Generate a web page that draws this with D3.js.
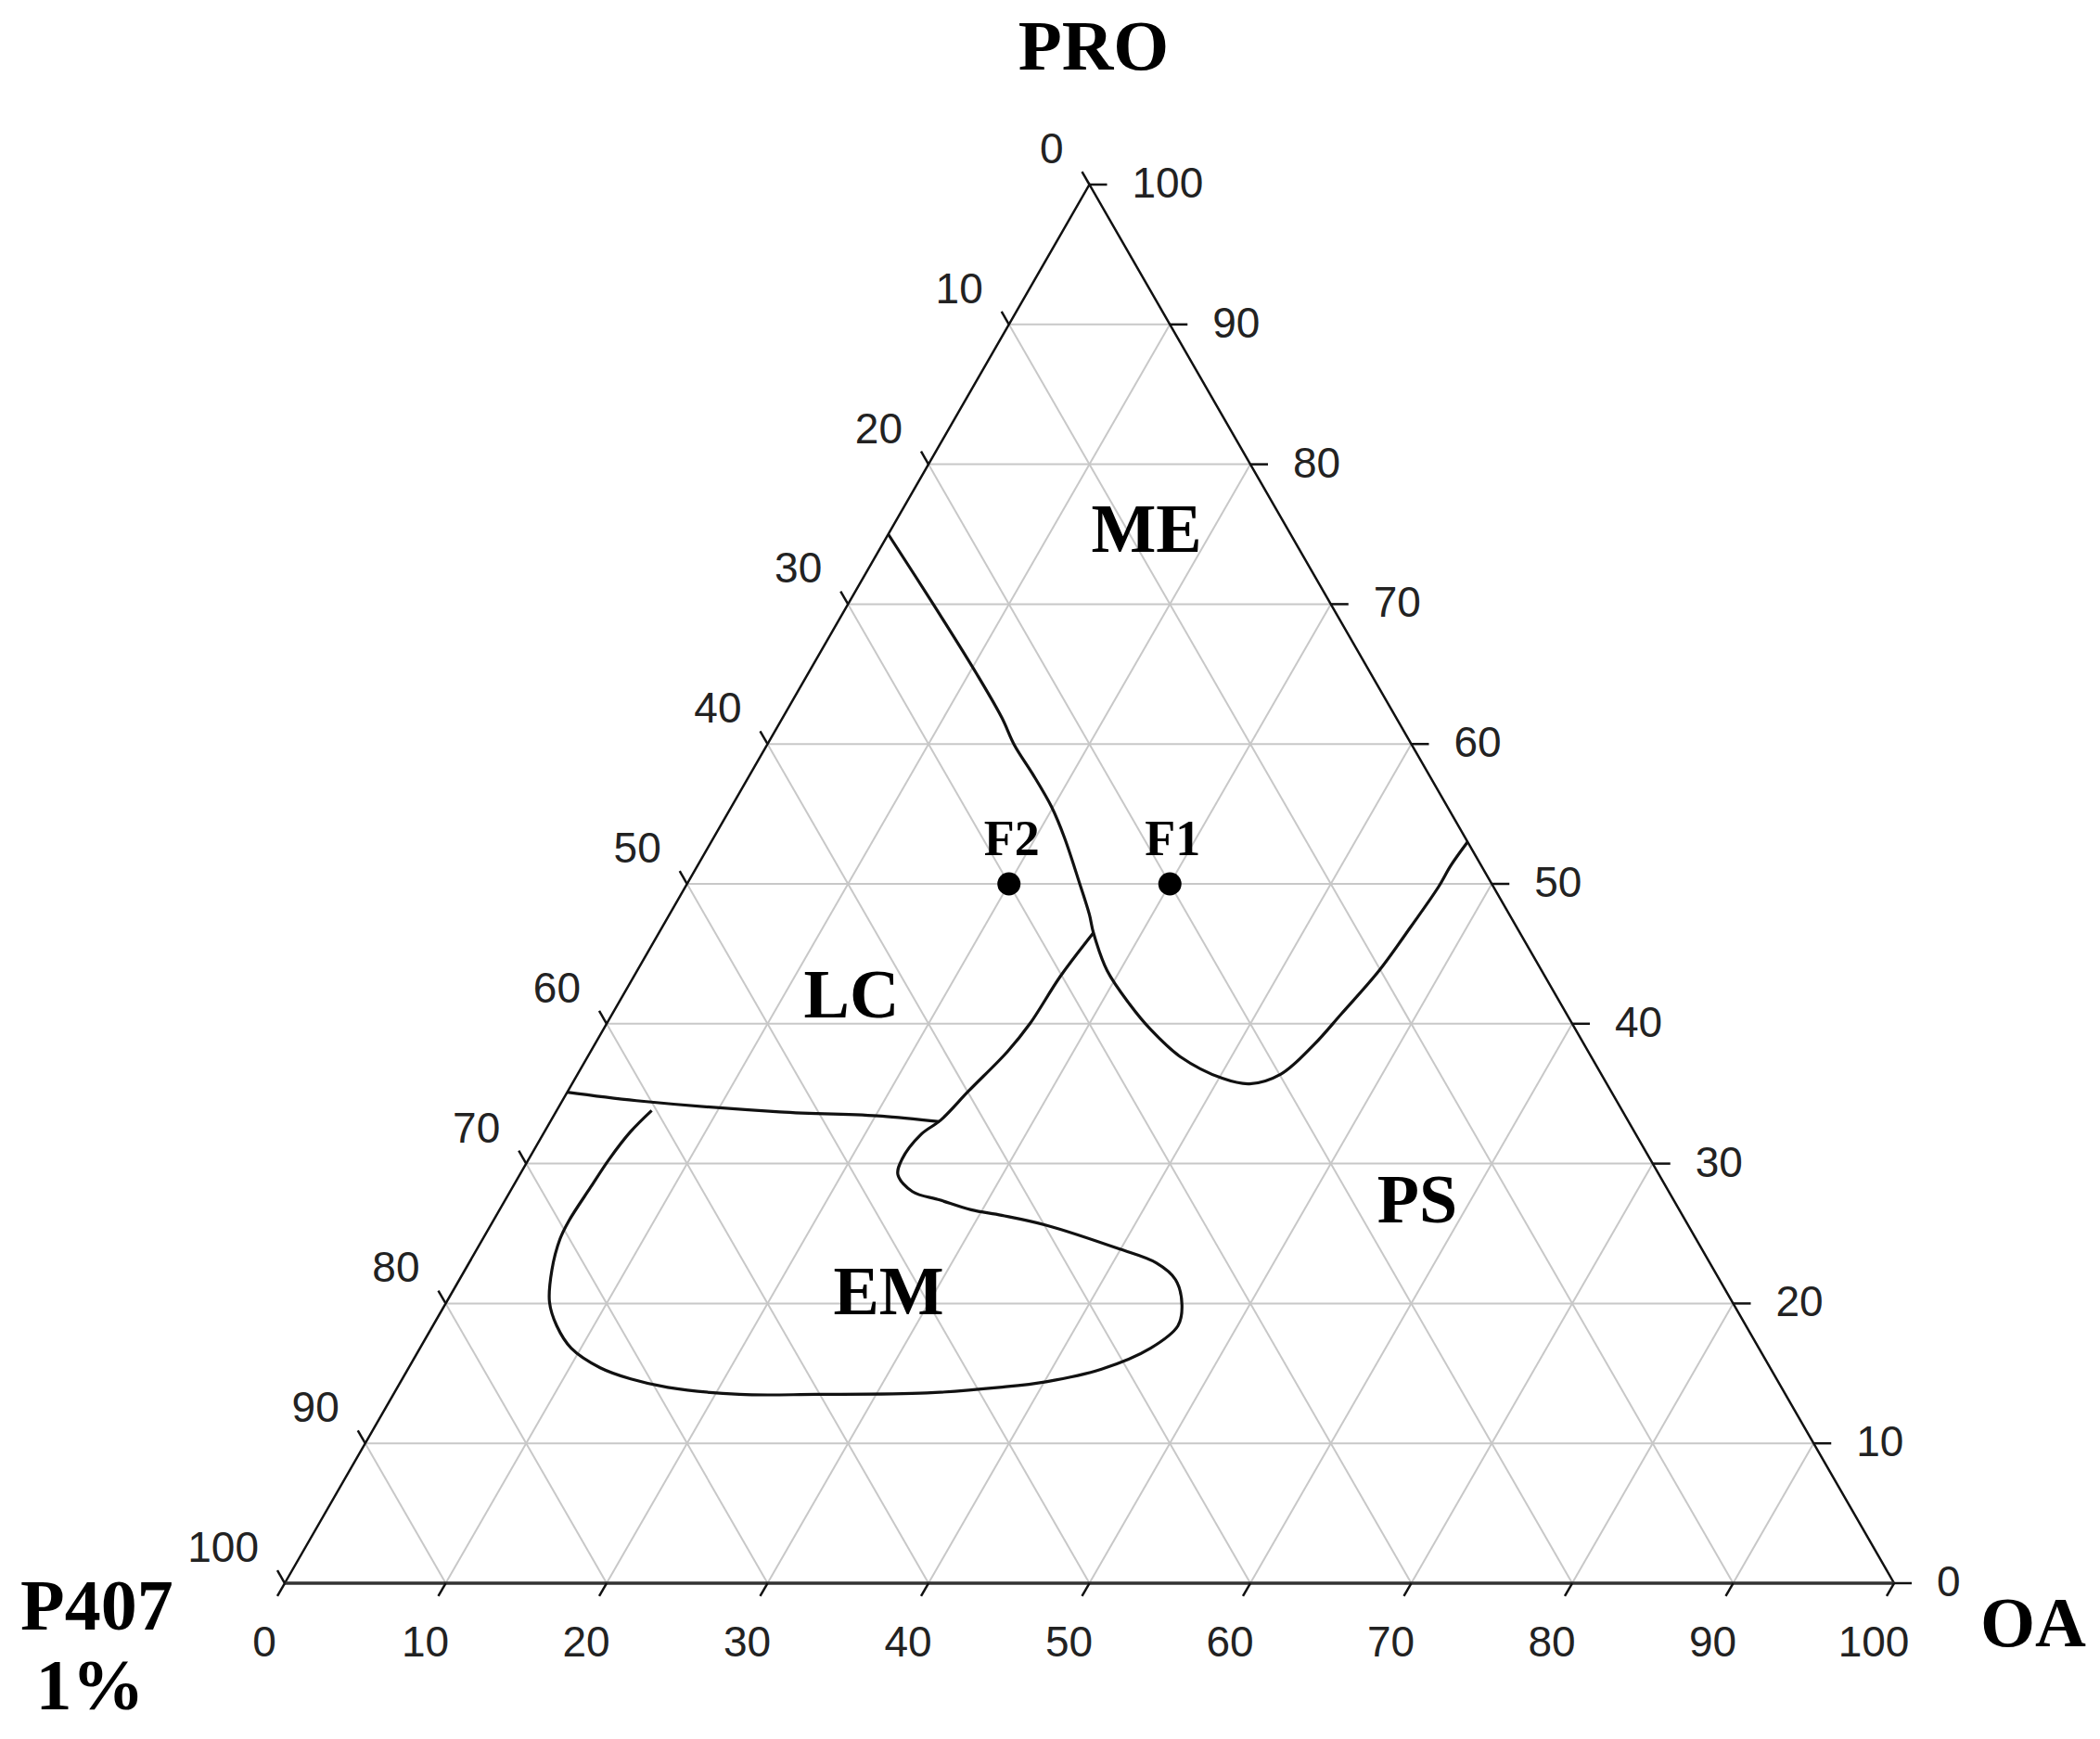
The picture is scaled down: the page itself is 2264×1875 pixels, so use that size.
<!DOCTYPE html>
<html>
<head>
<meta charset="utf-8">
<script src="https://cdn.jsdelivr.net/npm/d3@7"></script>
<style>
  body { margin: 0; background: #fff; }
  svg { display: block; }
  .tick-label { font-family: "Liberation Sans", Arial, sans-serif; font-size: 46px; fill: #222; }
  .big { font-family: "Liberation Serif", "Times New Roman", serif; font-weight: bold; fill: #000; }
</style>
</head>
<body>
<div id="app"></div>
<script>
// tick values shared by the three axes
var tickValues = [0, 10, 20, 30, 40, 50, 60, 70, 80, 90, 100];

// phase boundaries, points as [OA, PRO] (P407 = 100 - OA - PRO)
var boundaryME = [
  [0, 75], [5.4, 69.9], [10.5, 65], [13.6, 61.9], [15.4, 59.9], [17.5, 57.9],
  [19.9, 55.5], [21.8, 53.3], [24.4, 50], [26.1, 47.8], [27.0, 46.5],
  [29.2, 43.8], [31.8, 41.4], [34.0, 39.6], [36.9, 37.6], [40.2, 36.1],
  [42.1, 35.7], [43.7, 36.4], [44.7, 38.5], [45.3, 40.7], [46.1, 43.8],
  [46.5, 46.9], [46.8, 49.8], [46.8, 51.3], [47.0, 53.0]
];

var boundaryEM = [
  [27.0, 46.5], [26.5, 43.4], [26.3, 40.0], [25.9, 38.0], [24.9, 35.2],
  [24.2, 33.1], [23.5, 32.1], [23.2, 30.3], [23.5, 29.2], [25.0, 28.0],
  [27.0, 27.4], [29.3, 26.7], [31.4, 26.3], [34.5, 25.6], [39.9, 23.9],
  [42.7, 22.9], [44.5, 21.7], [45.8, 19.9], [46.3, 18.4], [45.4, 16.8],
  [43.1, 15.3], [40.1, 14.4], [37.4, 14.0], [33.1, 13.6], [26.3, 13.5],
  [21.5, 13.5], [16.8, 14.0], [14.2, 14.6], [11.9, 15.4], [9.4, 16.8],
  [7.7, 18.4], [6.4, 20.1], [5.4, 22.4], [4.8, 24.6], [4.7, 25.9],
  [4.85, 28.3], [5.0, 30.3], [5.35, 32.3], [5.9, 33.8]
];

var boundaryLC = [
  [0, 35.1], [4.6, 34.5], [13.9, 33.7], [20.4, 33.4], [24.2, 33.0]
];

// formulations
var pointNames = ["F1", "F2"];
var pointOA = [30, 20];
var pointPRO = [50, 50];

var regionNames = ["ME", "LC", "EM", "PS"];

var width = 2264,
    height = 1875;

var svg = d3.select("#app").append("svg")
    .attr("width", width)
    .attr("height", height);

svg.append("rect").attr("width", width).attr("height", height).attr("fill", "#fff");

// ternary -> screen: x follows OA + PRO/2, y follows PRO
var xScale = d3.scaleLinear().domain([0, 100]).range([307, 2042]);
var yScale = d3.scaleLinear().domain([0, 100]).range([1707, 199]);

function project(oa, pro) {
    return [xScale(oa + pro / 2), yScale(pro)];
}

var line = d3.line()
    .x(function(d) { return project(d[0], d[1])[0]; })
    .y(function(d) { return project(d[0], d[1])[1]; });

// grid
var grid = svg.append("g")
    .attr("stroke", "#c8c8c8")
    .attr("stroke-width", 2)
    .attr("fill", "none");

var inner = tickValues.slice(1, -1);

// constant PRO (horizontal)
grid.selectAll(".g-pro").data(inner).enter().append("path")
    .attr("d", function(k) { return line([[0, k], [100 - k, k]]); });
// constant OA (parallel to left edge)
grid.selectAll(".g-oa").data(inner).enter().append("path")
    .attr("d", function(k) { return line([[k, 0], [k, 100 - k]]); });
// constant P407 (parallel to right edge)
grid.selectAll(".g-p").data(inner).enter().append("path")
    .attr("d", function(k) { return line([[100 - k, 0], [0, 100 - k]]); });

// triangle
svg.append("path")
    .attr("d", line([[0, 0], [0, 100], [100, 0]]))
    .attr("fill", "none")
    .attr("stroke", "#111")
    .attr("stroke-width", 2.5);
svg.append("path")
    .attr("d", line([[0, 0], [100, 0]]))
    .attr("stroke", "#333")
    .attr("stroke-width", 3.5);

// ticks
var tl = 16;
var ticks = svg.append("g").attr("stroke", "#111").attr("stroke-width", 2.5);

// bottom axis: OA
tickValues.forEach(function(k) {
    var p = project(k, 0);
    ticks.append("line")
        .attr("x1", p[0]).attr("y1", p[1])
        .attr("x2", p[0] - tl * 0.5).attr("y2", p[1] + tl * 0.866);
    svg.append("text").attr("class", "tick-label")
        .attr("x", p[0] - 22).attr("y", p[1] + 79)
        .attr("text-anchor", "middle")
        .text(k);
});

// right axis: PRO
tickValues.forEach(function(k) {
    var p = project(100 - k, k);
    ticks.append("line")
        .attr("x1", p[0]).attr("y1", p[1])
        .attr("x2", p[0] + 19).attr("y2", p[1]);
    svg.append("text").attr("class", "tick-label")
        .attr("x", p[0] + 46).attr("y", p[1] + 14)
        .text(k);
});

// left axis: P407
tickValues.forEach(function(k) {
    var p = project(0, 100 - k);
    ticks.append("line")
        .attr("x1", p[0]).attr("y1", p[1])
        .attr("x2", p[0] - tl * 0.5).attr("y2", p[1] - tl * 0.866);
    svg.append("text").attr("class", "tick-label")
        .attr("x", p[0] - 28).attr("y", p[1] - 23)
        .attr("text-anchor", "end")
        .text(k);
});

// boundaries
var smooth = d3.line()
    .x(function(d) { return project(d[0], d[1])[0]; })
    .y(function(d) { return project(d[0], d[1])[1]; })
    .curve(d3.curveCatmullRom.alpha(0.5));

svg.selectAll(".boundary")
    .data([boundaryME, boundaryEM, boundaryLC])
    .enter().append("path")
    .attr("class", "boundary")
    .attr("d", smooth)
    .attr("fill", "none")
    .attr("stroke", "#111")
    .attr("stroke-width", 3.2);

// formulation points
pointNames.forEach(function(name, i) {
    var p = project(pointOA[i], pointPRO[i]);
    svg.append("circle")
        .attr("cx", p[0]).attr("cy", p[1])
        .attr("r", 12.5)
        .attr("fill", "#000");
    svg.append("text").attr("class", "big")
        .attr("x", p[0] + 3).attr("y", p[1] - 31)
        .attr("text-anchor", "middle")
        .style("font-size", "54px")
        .text(name);
});

// region labels
var regionXY = [[1236, 595], [918, 1097], [958, 1417], [1528, 1318]];
svg.selectAll(".region")
    .data(regionNames)
    .enter().append("text")
    .attr("class", "big")
    .attr("x", function(d, i) { return regionXY[i][0]; })
    .attr("y", function(d, i) { return regionXY[i][1]; })
    .attr("text-anchor", "middle")
    .style("font-size", "74px")
    .text(function(d) { return d; });

// axis titles
svg.append("text").attr("class", "big")
    .attr("x", 1179).attr("y", 75)
    .attr("text-anchor", "middle")
    .style("font-size", "77px")
    .text("PRO");
svg.append("text").attr("class", "big")
    .attr("x", 2135).attr("y", 1775)
    .style("font-size", "76px")
    .text("OA");
svg.append("text").attr("class", "big")
    .attr("x", 22).attr("y", 1757)
    .style("font-size", "78px")
    .text("P407");
svg.append("text").attr("class", "big")
    .attr("x", 97).attr("y", 1843)
    .attr("text-anchor", "middle")
    .style("font-size", "78px")
    .text("1%");
</script>
</body>
</html>
